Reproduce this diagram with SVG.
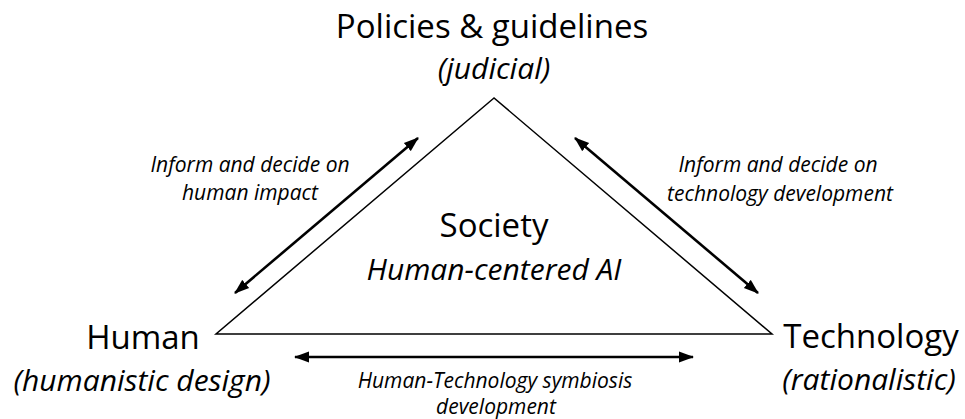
<svg xmlns="http://www.w3.org/2000/svg" width="965" height="419" viewBox="0 0 965 419">
<defs>
<marker id="ah" viewBox="0 0 14 10" refX="13" refY="5" markerWidth="5.8" markerHeight="4.6" orient="auto-start-reverse" markerUnits="strokeWidth">
<path d="M0,0 L14,5 L0,10 z" fill="#000"/>
</marker>
<style>
text{font-family:"Open Sans","Noto Sans",sans-serif;fill:#000;}
.big{font-size:33px;}
.mid{font-size:30px;font-style:italic;}
.sm{font-size:21px;font-style:italic;}
.conn{stroke:#000;stroke-width:2.6;fill:none;marker-start:url(#ah);marker-end:url(#ah);}
</style>
</defs>
<rect width="965" height="419" fill="#fff"/>
<g id="society">
<polygon points="494,98 216,334 772,334" fill="#fff" stroke="#000" stroke-width="1.5"/>
<text class="big" x="494" y="237" text-anchor="middle">Society</text>
<text class="mid" x="494" y="280" text-anchor="middle">Human-centered AI</text>
</g>
<g id="policies">
<text class="big" x="492" y="38" text-anchor="middle">Policies &amp; guidelines</text>
<text class="mid" x="494" y="79" text-anchor="middle">(judicial)</text>
</g>
<g id="human">
<text class="big" x="143" y="349" text-anchor="middle">Human</text>
<text class="mid" x="142" y="391" text-anchor="middle">(humanistic design)</text>
</g>
<g id="technology">
<text class="big" x="871" y="348" text-anchor="middle">Technology</text>
<text class="mid" x="869" y="390" text-anchor="middle">(rationalistic)</text>
</g>
<g id="connectors">
<line class="conn" x1="235" y1="293" x2="418" y2="138"/>
<line class="conn" x1="575" y1="138" x2="758" y2="293"/>
<line class="conn" x1="295" y1="357" x2="693" y2="357"/>
<text class="sm" x="250" y="172" text-anchor="middle">Inform and decide on</text>
<text class="sm" x="250" y="200" text-anchor="middle">human impact</text>
<text class="sm" x="778" y="172" text-anchor="middle">Inform and decide on</text>
<text class="sm" x="780" y="201" text-anchor="middle">technology development</text>
<text class="sm" x="495" y="388" text-anchor="middle">Human-Technology symbiosis</text>
<text class="sm" x="496" y="414" text-anchor="middle">development</text>
</g>
</svg>
